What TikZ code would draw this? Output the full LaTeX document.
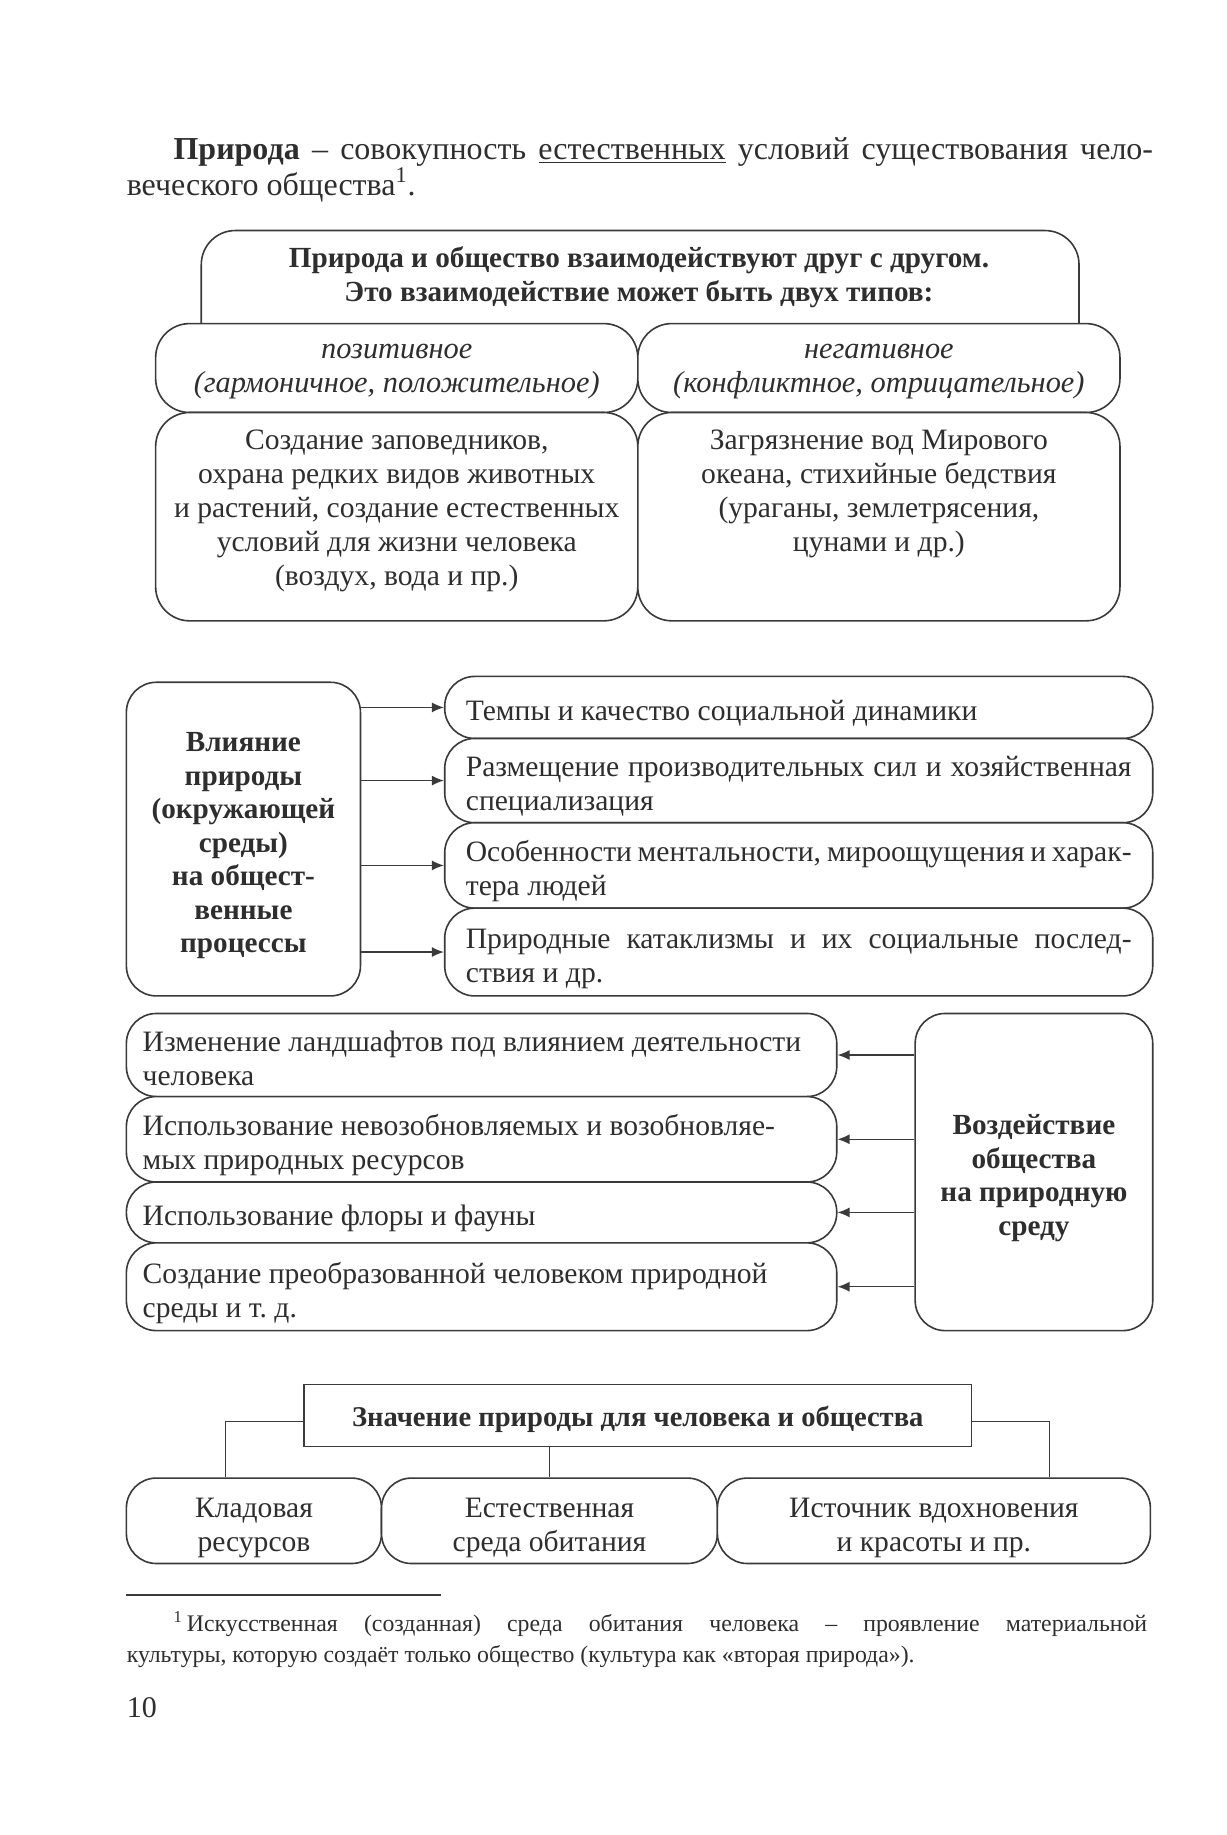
\documentclass[tikz,border=0pt]{standalone}
\usepackage{fontspec}
\setmainfont{Liberation Serif}
\usetikzlibrary{arrows.meta}
\definecolor{ink}{HTML}{2E2E2E}
\definecolor{linec}{HTML}{3A3A3A}
\newcommand{\jline}[2]{\makebox[#1][s]{\spaceskip=0pt\xspaceskip=0pt #2}}
\begin{document}
\begin{tikzpicture}[x=0.5854pt,y=-0.5854pt,
  sz/.style 2 args={minimum width=#1*0.5854pt, minimum height=#2*0.5854pt},
  tx/.style={text=ink, execute at begin node={\rule{0pt}{1.15em}}, execute at end node={\rule[-0.25em]{0pt}{0.25em}}},
  rbox/.style={draw=linec, line width=0.8pt, rounded corners=15pt, fill=white, inner sep=0pt, tx, font=\fontsize{14.8}{17}\selectfont},
  sbox/.style={draw=linec, line width=0.8pt, fill=white, inner sep=0pt, text=ink, execute at begin node={\rule{0pt}{0.95em}}},
  txt/.style={inner sep=0pt, tx, align=flush center, text width=#1, font=\fontsize{14.8}{17}\selectfont},
  cbox/.style={rbox, align=flush center, text width=#1},
  lbox/.style={rbox, align=flush left, text width=#1},
  arr/.style={draw=linec, line width=0.7pt, -{Latex[length=6pt,width=5pt]}},
  conn/.style={draw=linec, line width=0.55pt}
]
\fill[white] (0,0) rectangle (1048,1568);
\useasboundingbox (0,0) rectangle (1048,1568);

% ---------- paragraph ----------
\node[anchor=base west, inner sep=0pt, text=ink, font=\fontsize{16}{17.6}\selectfont] (para1) at (148,136)
  {\jline{490pt}{\textbf{Природа} – совокупность \underline{естественных} условий существования чело-}};
\node[anchor=base west, inner sep=0pt, text=ink, font=\fontsize{16}{17.6}\selectfont] (para2) at (108,167)
  {веческого общества\textsuperscript{1}.};

% ---------- section 1 ----------
\node[rbox, rounded corners=17pt, sz={750}{112}] (hdr) at (547,253) {};
\node[txt=420pt, font=\bfseries\fontsize{14.6}{17}\selectfont] (hdrtxt) at (546,231.5)
  {Природа и общество взаимодействуют друг с другом.\\Это взаимодействие может быть двух типов:};
\node[rbox, rounded corners=17pt, sz={412}{76}] (pos) at (339,314.5) {};
\node[rbox, rounded corners=17pt, sz={412}{76}] (neg) at (751,314.5) {};
\node[txt=232pt, font=\itshape\fontsize{15.2}{17}\selectfont] (postxt) at (339,309) {позитивное\\(гармоничное, положительное)};
\node[txt=232pt, font=\itshape\fontsize{15.2}{17}\selectfont] (negtxt) at (751,309) {негативное\\(конфликтное, отрицательное)};
\node[rbox, rounded corners=17pt, sz={412}{178}] (posex) at (339,441.5) {};
\node[rbox, rounded corners=17pt, sz={412}{178}] (negex) at (751,441.5) {};
\node[txt=232pt] (posextxt) at (339,431) {Создание заповедников,\\охрана редких видов животных\\и растений, создание естественных\\условий для жизни человека\\(воздух, вода и пр.)};
\node[txt=232pt] (negextxt) at (751,416) {Загрязнение вод Мирового\\океана, стихийные бедствия\\(ураганы, землетрясения,\\цунами и др.)};

% ---------- section 2 ----------
\node[cbox=105pt, sz={200}{268}, font=\bfseries\fontsize{14.6}{16.8}\selectfont] (infl) at (208,717)
  {Влияние\\природы\\(окружающей\\среды)\\на общест-\\венные\\процессы};
\node[lbox=333pt, sz={605}{53}] (r1) at (682.5,604.5) {Темпы и качество социальной динамики};
\node[lbox=333pt, sz={605}{72}] (r2) at (682.5,667) {\jline{333pt}{Размещение производительных сил и хозяйственная}\\специализация};
\node[lbox=333pt, sz={605}{73}] (r3) at (682.5,739.5) {\jline{333pt}{Особенности ментальности, мироощущения и харак-}\\тера людей};
\node[lbox=333pt, sz={605}{75}] (r4) at (682.5,813.5) {\jline{333pt}{Природные катаклизмы и их социальные послед-}\\ствия и др.};
\foreach \r in {r1,r2,r3,r4}
  \draw[arr] (infl.east |- \r.west) -- (\r.west);

% ---------- section 3 ----------
\node[lbox=339pt, sz={607}{71}] (l1) at (411.5,901.5) {Изменение ландшафтов под влиянием деятельности\\человека};
\node[lbox=339pt, sz={607}{73}] (l2) at (411.5,973.5) {Использование невозобновляемых и возобновляе-\\мых природных ресурсов};
\node[lbox=339pt, sz={607}{52}] (l3) at (411.5,1036) {Использование флоры и фауны};
\node[lbox=339pt, sz={607}{75}] (l4) at (411.5,1099.5) {Создание преобразованной человеком природной\\среды и т.~д.};
\node[cbox=110pt, sz={203}{271}, font=\bfseries\fontsize{14.6}{16.8}\selectfont] (soc) at (883.5,1001.5)
  {Воздействие\\общества\\на природную\\среду};
\foreach \l in {l1,l2,l3,l4}
  \draw[arr] (soc.west |- \l.east) -- (\l.east);

% ---------- section 4 ----------
\node[sbox, sz={570}{53}, font=\bfseries\fontsize{14.3}{17}\selectfont] (title) at (545,1209.5) {Значение природы для человека и общества};
\node[cbox=120pt, sz={218}{73}] (b1) at (217,1299.5) {Кладовая\\ресурсов};
\node[cbox=160pt, sz={287}{73}] (b2) at (469.5,1299.5) {Естественная\\среда обитания};
\node[cbox=210pt, sz={370}{73}] (b3) at (798,1299.5) {Источник вдохновения\\и красоты и пр.};
\draw[conn] ([yshift=-3pt]title.west) -| ([xshift=-24*0.5854pt]b1.north);
\draw[conn] (b2.north |- title.south) -- (b2.north);
\draw[conn] ([yshift=-3pt]title.east) -| ([xshift=99*0.5854pt]b3.north);

% ---------- footnote ----------
\draw[draw=linec, line width=0.7pt] (108,1363) -- (377,1363);
\node[anchor=base west, inner sep=0pt, text=ink, font=\fontsize{11.9}{15}\selectfont] (fn1) at (148,1394)
  {\jline{487pt}{\textsuperscript{1}\,Искусственная (созданная) среда обитания человека – проявление материальной}};
\node[anchor=base west, inner sep=0pt, text=ink, font=\fontsize{11.9}{15}\selectfont] (fn2) at (108,1421)
  {культуры, которую создаёт только общество (культура как «вторая природа»).};
\node[anchor=base west, inner sep=0pt, text=ink, font=\fontsize{15}{17}\selectfont] (pagenum) at (108,1468) {10};
\end{tikzpicture}
\end{document}
